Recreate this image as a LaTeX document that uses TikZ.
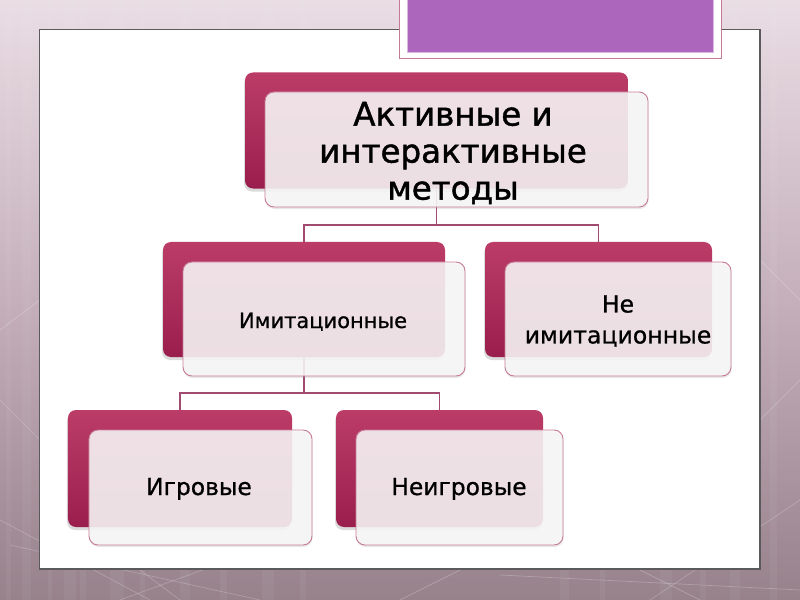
\documentclass[tikz,border=0pt]{standalone}
\usepackage{fontspec}
\setmainfont{DejaVu Sans}
\newfontfamily\heavyfont[FakeBold=1.3]{DejaVu Sans}
\newfontfamily\midfont[FakeBold=0.7]{DejaVu Sans}
\usetikzlibrary{shadows,calc}
\definecolor{crimTop}{HTML}{BB3C67}
\definecolor{crimBot}{HTML}{9A1E4D}
\definecolor{frontFill}{HTML}{F8F7F7}
\definecolor{frontLine}{HTML}{C67C95}
\definecolor{connCol}{HTML}{A24B70}
\definecolor{purpleFill}{HTML}{AC66BC}
\definecolor{purpleEdge}{HTML}{C27A96}
\definecolor{bgTop}{HTML}{EADDE4}
\definecolor{bgMid}{HTML}{C4AFBA}
\definecolor{bgBot}{HTML}{97828C}
\definecolor{slideEdge}{HTML}{5A5A5A}
\begin{document}
\begin{tikzpicture}[x=1bp,y=-1bp,
  backbox/.style={rectangle, draw=none, rounded corners=8bp, top color=crimTop, bottom color=crimBot,
    inner sep=0pt, outer sep=0pt, drop shadow={opacity=0.28, shadow xshift=-1bp, shadow yshift=-3bp}},
  frontbox/.style={rectangle, rounded corners=9bp, draw=frontLine, line width=0.9bp, fill=frontFill,
    fill opacity=0.88, draw opacity=1, inner sep=0pt, outer sep=0pt,
    drop shadow={opacity=0.18, shadow xshift=0.5bp, shadow yshift=-2bp}},
  conn/.style={draw=connCol, line width=1.1bp},
  lbl/.style={inner sep=0pt, outer sep=0pt, text=black, align=center},
  bgline/.style={draw=white, line width=0.7bp, opacity=0.22},
  bgstripe/.style={fill=white, opacity=0.045}
]
\useasboundingbox (0,0) rectangle (800,600);
% background
\shade[top color=bgTop, bottom color=bgBot, middle color=bgMid] (0,0) rectangle (800,600);
\foreach \sx/\sw in {6/5,22/9,48/4,64/12,80/6,110/14,140/5,180/10,220/7,262/12,300/6,560/9,600/5,660/12,700/6,730/10,770/7}{
  \fill[bgstripe] (\sx,0) rectangle ++(\sw,600);
}
\draw[bgline] (0,520) -- (150,600);
\draw[bgline] (10,545) -- (260,600);
\draw[bgline] (120,600) -- (230,560);
\draw[bgline] (180,600) -- (140,570);
\draw[bgline] (400,600) -- (470,565);
\draw[bgline] (500,575) -- (800,590);
\draw[bgline] (650,600) -- (800,500);
\draw[bgline] (700,600) -- (640,570);
\draw[bgline] (0,330) -- (40,300);
\draw[bgline] (0,400) -- (40,440);
\draw[bgline] (760,260) -- (800,300);
\draw[bgline] (760,420) -- (800,380);
\draw[bgline] (640,30) -- (670,0);
% slide
\draw[fill=white, draw=slideEdge, line width=1.1bp] (39.5,29.5) rectangle (760,569);
% purple title box
\fill[white] (399,-2) rectangle (721,59);
\draw[purpleEdge, line width=1bp] (399,-2) rectangle (721,59);
\fill[purpleFill] (407,-2) rectangle (713,52);
\draw[purpleFill!45!white, line width=0.8bp] (407,-2) rectangle (713,52);

% junction coordinates
\coordinate (j1) at (436.5,225);
\coordinate (j2) at (304,393);

% back boxes
\node[backbox, minimum width=383bp, minimum height=116bp] (topB) at (436.5,130.5) {};
\node[backbox, minimum width=282bp, minimum height=115bp] (imB) at (304,299.5) {};
\node[backbox, minimum width=227bp, minimum height=115bp] (neB) at (598.5,299.5) {};
\node[backbox, minimum width=224bp, minimum height=117bp] (igB) at (180,468.5) {};
\node[backbox, minimum width=207bp, minimum height=117bp] (niB) at (439.5,468.5) {};

% connectors
\draw[conn] (topB.south) -- (j1);
\draw[conn] (j1) -| (imB.north);
\draw[conn] (j1) -| (neB.north);
\draw[conn] (imB.south) -- (j2);
\draw[conn] (j2) -| (igB.north);
\draw[conn] (j2) -| (niB.north);

% front boxes
\node[frontbox, minimum width=383bp, minimum height=115bp] (topF) at (456.5,149.5) {};
\node[frontbox, minimum width=282bp, minimum height=114bp] (imF) at (324,319) {};
\node[frontbox, minimum width=226bp, minimum height=114bp] (neF) at (618,319) {};
\node[frontbox, minimum width=223bp, minimum height=115bp] (igF) at (200.5,487.5) {};
\node[frontbox, minimum width=207bp, minimum height=115bp] (niF) at (459.5,487.5) {};

% labels
\node[lbl, font=\heavyfont\fontsize{32.5bp}{37bp}\selectfont] (topT) at (453,153) {Активные и\\интерактивные\\методы};
\node[lbl, font=\midfont\fontsize{21bp}{25bp}\selectfont, anchor=base] (imT) at (323,328) {Имитационные};
\node[lbl, font=\midfont\fontsize{23.6bp}{31bp}\selectfont] (neT) at (618,321) {Не\\имитационные};
\node[lbl, font=\midfont\fontsize{23.4bp}{28bp}\selectfont, anchor=base] (igT) at (199,495) {Игровые};
\node[lbl, font=\midfont\fontsize{23.4bp}{28bp}\selectfont, anchor=base] (niT) at (459,495) {Неигровые};
\end{tikzpicture}
\end{document}
